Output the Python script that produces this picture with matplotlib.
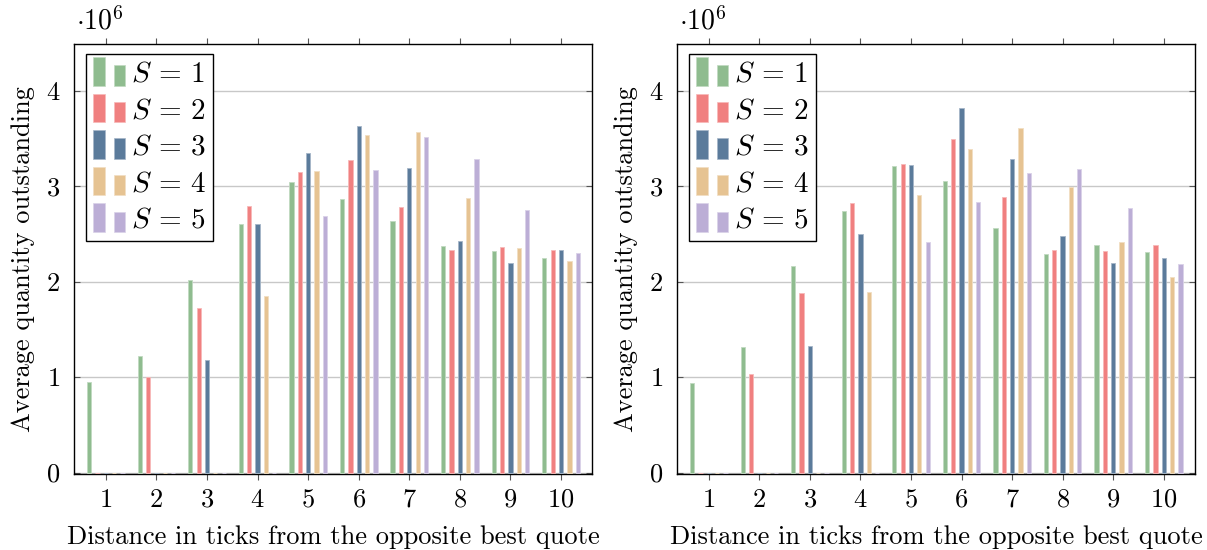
import numpy as np
import matplotlib
matplotlib.use("Agg")
import matplotlib.pyplot as plt
from matplotlib.patches import Rectangle
from matplotlib.legend_handler import HandlerBase

plt.rcParams['font.family'] = 'cmr10'
plt.rcParams['mathtext.fontset'] = 'cm'
plt.rcParams['axes.formatter.use_mathtext'] = True
plt.rcParams['font.size'] = 19

# distances 1..10, values in units of 10^6
distance = [1, 2, 3, 4, 5, 6, 7, 8, 9, 10]
series_names = [r'$S\,=\,1$', r'$S\,=\,2$', r'$S\,=\,3$', r'$S\,=\,4$', r'$S\,=\,5$']
colors = ['#8fbc8f', '#f08080', '#5b7b9b', '#e6c392', '#bcaed6']

left_s1 = [0.95, 1.22, 2.02, 2.60, 3.04, 2.87, 2.63, 2.37, 2.32, 2.25]
left_s2 = [0.00, 1.00, 1.72, 2.79, 3.15, 3.27, 2.78, 2.33, 2.36, 2.33]
left_s3 = [0.00, 0.00, 1.18, 2.60, 3.35, 3.63, 3.19, 2.43, 2.19, 2.33]
left_s4 = [0.00, 0.00, 0.00, 1.85, 3.16, 3.54, 3.57, 2.88, 2.35, 2.22]
left_s5 = [0.00, 0.00, 0.00, 0.00, 2.69, 3.17, 3.51, 3.28, 2.75, 2.30]

right_s1 = [0.94, 1.31, 2.16, 2.74, 3.21, 3.05, 2.56, 2.29, 2.38, 2.31]
right_s2 = [0.00, 1.03, 1.88, 2.82, 3.23, 3.49, 2.89, 2.33, 2.32, 2.38]
right_s3 = [0.00, 0.00, 1.33, 2.50, 3.22, 3.82, 3.28, 2.48, 2.19, 2.25]
right_s4 = [0.00, 0.00, 0.00, 1.89, 2.91, 3.39, 3.61, 2.99, 2.42, 2.05]
right_s5 = [0.00, 0.00, 0.00, 0.00, 2.41, 2.83, 3.14, 3.18, 2.77, 2.18]

panels = [
    [left_s1, left_s2, left_s3, left_s4, left_s5],
    [right_s1, right_s2, right_s3, right_s4, right_s5],
]


def lighter(c, amount=0.45):
    rgb = np.array(matplotlib.colors.to_rgb(c))
    return tuple(rgb + (1 - rgb) * amount)


# pgfplots style legend image: two small bars
class TwoBars(HandlerBase):
    def create_artists(self, legend, orig_handle, xdescent, ydescent,
                       width, height, fontsize, trans):
        fc = orig_handle.get_facecolor()
        ec = orig_handle.get_edgecolor()
        w = width * 0.36
        b = -ydescent - 0.2 * height
        r1 = Rectangle((-xdescent, b), w, height * 1.4, facecolor=fc,
                       edgecolor=ec, lw=0.5, transform=trans)
        r2 = Rectangle((-xdescent + width * 0.64, b), w, height * 1.0,
                       facecolor=fc, edgecolor=ec, lw=0.5, transform=trans)
        return [r1, r2]


fig = plt.figure(figsize=(12.07, 5.5), dpi=100)
axes = [fig.add_axes([0.0613, 0.1382, 0.4295, 0.782]),
        fig.add_axes([0.5609, 0.1382, 0.4292, 0.782])]

x = np.array(distance)
step = 0.165
bar_w = 0.085

for ax, data in zip(axes, panels):
    handles = []
    for i, vals in enumerate(data):
        h = ax.bar(x + (i - 2) * step, vals, width=bar_w, color=colors[i],
                   edgecolor=lighter(colors[i]), linewidth=0.6, zorder=3,
                   label=series_names[i])
        handles.append(h.patches[0])
    ax.set_xlim(0.37, 10.62)
    ax.set_ylim(-0.015, 4.49)
    ax.set_xticks(distance)
    ax.set_yticks([0, 1, 2, 3, 4])
    ax.grid(axis='y', color='#c8c8c8', linewidth=1.0, zorder=0)
    ax.tick_params(axis='x', direction='out', length=4, width=0.8,
                   top=True, color='#555555', pad=6)
    ax.tick_params(axis='y', direction='in', length=4, width=0.8,
                   right=True, color='#555555', pad=10)
    for sp in ax.spines.values():
        sp.set_linewidth(1.0)
    ax.set_xlabel('Distance in ticks from the opposite best quote', labelpad=10)
    ax.set_ylabel('Average quantity outstanding', labelpad=8)
    ax.text(0.004, 1.02, r'$\cdot 10^{6}$', transform=ax.transAxes,
            ha='left', va='bottom', fontsize=20)
    leg = ax.legend(handles, series_names, loc='upper left',
                    bbox_to_anchor=(0.0226, 0.977), borderaxespad=0,
                    handler_map={Rectangle: TwoBars()},
                    handlelength=1.1, handletextpad=0.2, labelspacing=0.35,
                    borderpad=0.25, fancybox=False, framealpha=1,
                    edgecolor='black', fontsize=21)
    leg.get_frame().set_linewidth(1.0)

fig.savefig('out.png', dpi=100)
